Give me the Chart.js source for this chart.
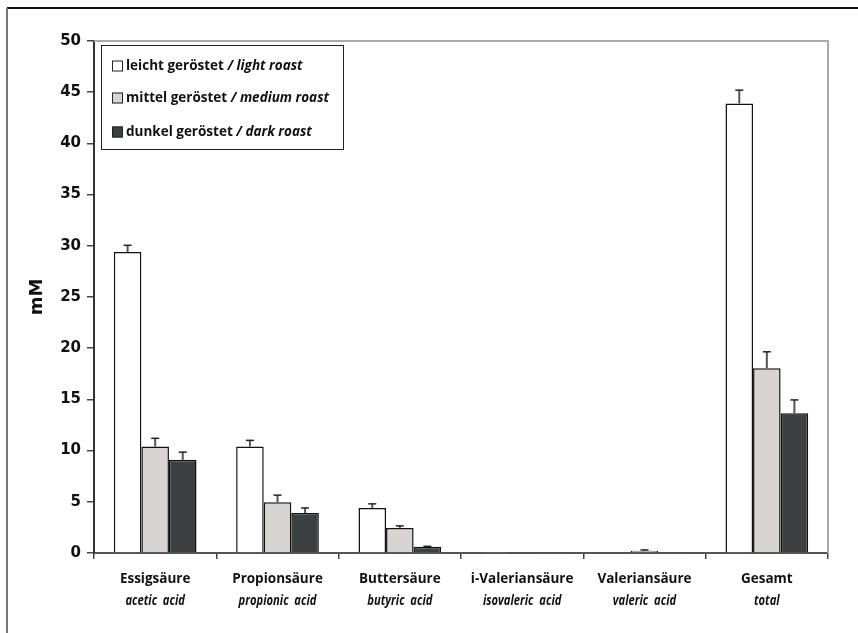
<!DOCTYPE html>
<html>
<head>
<meta charset="utf-8">
<script src="https://cdn.jsdelivr.net/npm/chart.js@4"></script>
<style>
  html, body { margin: 0; padding: 0; background: #fff; }
  #wrap { width: 858px; height: 633px; }
</style>
</head>
<body>
<div id="wrap"><canvas id="acids-chart" width="858" height="633"></canvas></div>
<script>
// categories (German / English line)
const categoriesDe = ['Essigsäure', 'Propionsäure', 'Buttersäure', 'i-Valeriansäure', 'Valeriansäure', 'Gesamt'];
const categoriesEn = ['acetic  acid', 'propionic  acid', 'butyric  acid', 'isovaleric  acid', 'valeric  acid', 'total'];

// series labels
const seriesDe = ['leicht geröstet', 'mittel geröstet', 'dunkel geröstet'];
const seriesEn = ['light roast', 'medium roast', 'dark roast'];

// values in mM
const lightRoast = [29.4, 10.4, 4.4, 0.1, 0, 43.9];
const mediumRoast = [10.4, 4.95, 2.45, 0.08, 0.22, 18.05];
const darkRoast = [9.1, 3.9, 0.6, 0.1, 0.1, 13.65];

// standard deviations (upper error bars only)
const lightErr = [0.65, 0.6, 0.4, 0, 0, 1.3];
const mediumErr = [0.8, 0.7, 0.2, 0, 0.08, 1.6];
const darkErr = [0.75, 0.5, 0.05, 0, 0, 1.3];

// y axis ticks
const yMin = 0;
const yMax = 50;
const yStep = 5;

const TEXT = '#111';
const FONT = '"Open Sans", Lato, sans-serif';

// error bars on top of each bar
const errorBarPlugin = {
  id: 'errorBars',
  afterDatasetsDraw(chart) {
    const ctx = chart.ctx;
    const yScale = chart.scales.y;
    chart.data.datasets.forEach((ds, i) => {
      const meta = chart.getDatasetMeta(i);
      meta.data.forEach((bar, j) => {
        const err = ds.errors[j];
        if (!err) return;
        const yTop = yScale.getPixelForValue(ds.data[j] + err);
        ctx.save();
        ctx.strokeStyle = '#555';
        ctx.lineWidth = 2;
        ctx.beginPath();
        ctx.moveTo(bar.x, bar.y);
        ctx.lineTo(bar.x, yTop);
        ctx.stroke();
        ctx.strokeStyle = '#222';
        ctx.lineWidth = 1.5;
        ctx.beginPath();
        ctx.moveTo(bar.x - 4, yTop);
        ctx.lineTo(bar.x + 4, yTop);
        ctx.stroke();
        ctx.restore();
      });
    });
  }
};

// outer frame and grey plot border
const framePlugin = {
  id: 'frame',
  beforeDatasetsDraw(chart) {
    const ctx = chart.ctx;
    const a = chart.chartArea;
    ctx.save();
    ctx.strokeStyle = '#111';
    ctx.lineWidth = 2;
    ctx.beginPath();
    ctx.moveTo(7, 8);
    ctx.lineTo(858, 8);
    ctx.stroke();
    ctx.strokeStyle = '#777';
    ctx.beginPath();
    ctx.moveTo(7, 8);
    ctx.lineTo(7, 633);
    ctx.stroke();
    ctx.strokeStyle = '#aaa';
    ctx.beginPath();
    ctx.moveTo(a.left, a.top);
    ctx.lineTo(a.right, a.top);
    ctx.lineTo(a.right, a.bottom);
    ctx.stroke();
    ctx.restore();
  }
};

// two-line category labels: bold German, condensed bold italic English
const categoryLabelPlugin = {
  id: 'categoryLabels',
  afterDraw(chart) {
    const ctx = chart.ctx;
    const xScale = chart.scales.x;
    ctx.save();
    ctx.fillStyle = TEXT;
    ctx.textAlign = 'center';
    ctx.textBaseline = 'middle';
    categoriesDe.forEach((label, i) => {
      const x = xScale.getPixelForValue(i);
      ctx.font = 'bold 13.5px ' + FONT;
      ctx.fillText(label, x, 579);
      ctx.font = 'italic bold 14px ' + FONT;
      const en = categoriesEn[i];
      const w = ctx.measureText(en).width;
      ctx.fillText(en, x, 601, w * 0.8);
    });
    ctx.restore();
  }
};

// boxed legend with mixed bold / italic text
const legendBoxPlugin = {
  id: 'legendBox',
  afterDraw(chart) {
    const ctx = chart.ctx;
    const box = { x: 101, y: 45, w: 242, h: 104 };
    const rows = [66, 98, 132];
    ctx.save();
    ctx.fillStyle = '#fff';
    ctx.fillRect(box.x, box.y, box.w, box.h);
    ctx.strokeStyle = '#222';
    ctx.lineWidth = 1;
    ctx.strokeRect(box.x + 0.5, box.y + 0.5, box.w, box.h);
    ctx.textBaseline = 'middle';
    chart.data.datasets.forEach((ds, i) => {
      const cy = rows[i];
      ctx.fillStyle = ds.backgroundColor;
      ctx.fillRect(112, cy - 5.5, 11, 11);
      ctx.strokeStyle = '#222';
      ctx.strokeRect(112.5, cy - 5, 10, 10);
      ctx.fillStyle = TEXT;
      ctx.font = 'bold 13.5px ' + FONT;
      const first = seriesDe[i] + ' ';
      ctx.fillText(first, 126, cy);
      const w = ctx.measureText(first).width;
      ctx.font = 'italic bold 13.5px ' + FONT;
      ctx.fillText('/ ' + seriesEn[i], 126 + w, cy);
    });
    ctx.restore();
  }
};

function makeDataset(i, values, errors, color) {
  return {
    label: seriesDe[i] + ' / ' + seriesEn[i],
    data: values,
    errors: errors,
    backgroundColor: color,
    borderColor: '#111',
    borderWidth: 1.5,
    barPercentage: 1,
    categoryPercentage: 0.676
  };
}

const canvas = document.getElementById('acids-chart');

new Chart(canvas, {
  type: 'bar',
  data: {
    labels: categoriesDe,
    datasets: [
      makeDataset(0, lightRoast, lightErr, '#ffffff'),
      makeDataset(1, mediumRoast, mediumErr, '#d8d4d1'),
      makeDataset(2, darkRoast, darkErr, '#3c4040')
    ]
  },
  options: {
    responsive: false,
    animation: false,
    layout: { padding: { top: 41, right: 30, left: 0, bottom: 0 } },
    plugins: {
      legend: { display: false },
      tooltip: { enabled: false }
    },
    scales: {
      x: {
        afterFit: (scale) => { scale.height = 80; },
        ticks: { display: false },
        grid: {
          offset: true,
          drawOnChartArea: false,
          tickLength: 6,
          color: '#444',
          lineWidth: 1.5
        },
        border: { color: '#555', width: 2 }
      },
      y: {
        min: yMin,
        max: yMax,
        afterFit: (scale) => { scale.width = 94; },
        ticks: {
          stepSize: yStep,
          padding: 6,
          color: TEXT,
          font: { family: '"DejaVu Sans"', weight: 'bold', size: 15 }
        },
        grid: {
          drawOnChartArea: false,
          tickLength: 7,
          color: '#444',
          lineWidth: 1.5
        },
        border: { color: '#333', width: 2 },
        title: {
          display: true,
          text: 'mM',
          color: TEXT,
          font: { family: '"DejaVu Sans"', weight: 'bold', size: 18 },
          padding: { top: 27, bottom: 0 }
        }
      }
    }
  },
  plugins: [framePlugin, errorBarPlugin, legendBoxPlugin, categoryLabelPlugin]
});
</script>
</body>
</html>
